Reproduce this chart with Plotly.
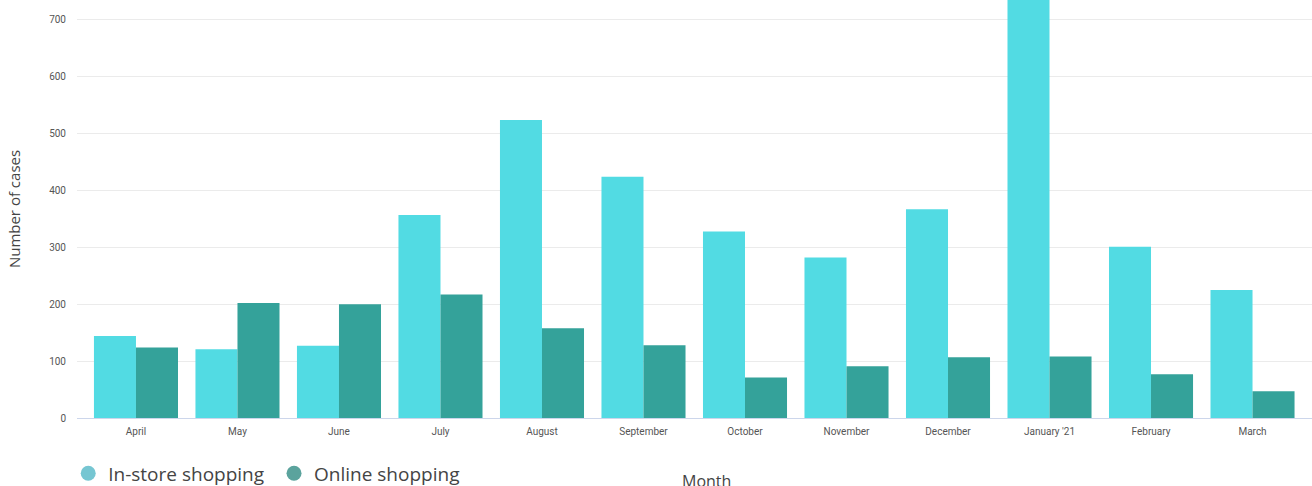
import plotly.graph_objects as go

months = ["April", "May", "June", "July", "August", "September", "October",
          "November", "December", "January '21", "February", "March"]
in_store = [144, 121, 127, 357, 524, 424, 328, 282, 367, 770, 301, 225]
online = [124, 202, 200, 217, 158, 128, 71, 91, 107, 108, 77, 47]

series_names = ["In-store shopping", "Online shopping"]
bar_colors = ["#52dbe3", "#34a29a"]
legend_colors = ["#76c6d2", "#5ba39d"]
y_ticks = [0, 100, 200, 300, 400, 500, 600, 700]

fig = go.Figure()
for name, vals, col in zip(series_names, [in_store, online], bar_colors):
    fig.add_trace(go.Bar(x=months, y=vals, name=name, marker=dict(color=col, line=dict(width=0)),
                         showlegend=False))
for name, col in zip(series_names, legend_colors):
    fig.add_trace(go.Scatter(x=[None], y=[None], mode="markers", name=name + " ",
                             marker=dict(symbol="circle", size=15, color=col)))

fig.update_layout(
    width=1312, height=486,
    margin=dict(l=77, r=0, t=0, b=68, autoexpand=False),
    paper_bgcolor="white", plot_bgcolor="white",
    barmode="group", bargap=0.172, bargroupgap=0,
    showlegend=True,
    legend=dict(orientation="h", x=0.052, xref="container", xanchor="left",
                y=0.065, yref="container", yanchor="top",
                font=dict(family="Open Sans", size=19, color="#444444"),
                itemwidth=30, tracegroupgap=0, bgcolor="rgba(0,0,0,0)"),
    font=dict(family="Roboto", color="#666666"),
)
fig.update_xaxes(
    type="category", range=[-0.581, 11.586],
    showgrid=False, showline=True, linecolor="#ccd6eb", linewidth=1,
    ticks="outside", ticklen=4, tickcolor="rgba(0,0,0,0)",
    tickfont=dict(family="Roboto", size=10, color="#555555"),
)
fig.update_yaxes(
    range=[0, 735], tickvals=y_ticks, ticktext=[str(v) for v in y_ticks],
    showgrid=True, gridcolor="#ebebeb", gridwidth=1, zeroline=False, showline=False,
    ticks="outside", ticklen=8, tickcolor="rgba(0,0,0,0)",
    tickfont=dict(family="Roboto", size=10, color="#555555"),
    title=dict(text="Number of cases", font=dict(family="Open Sans", size=15, color="#444444"),
               standoff=24),
)
fig.add_annotation(text="Month", xref="paper", yref="paper", x=(706 - 77) / 1235, y=-0.120,
                   xanchor="center", yanchor="top", showarrow=False,
                   font=dict(family="Open Sans", size=16, color="#444444"))

fig.write_html("out.html")
